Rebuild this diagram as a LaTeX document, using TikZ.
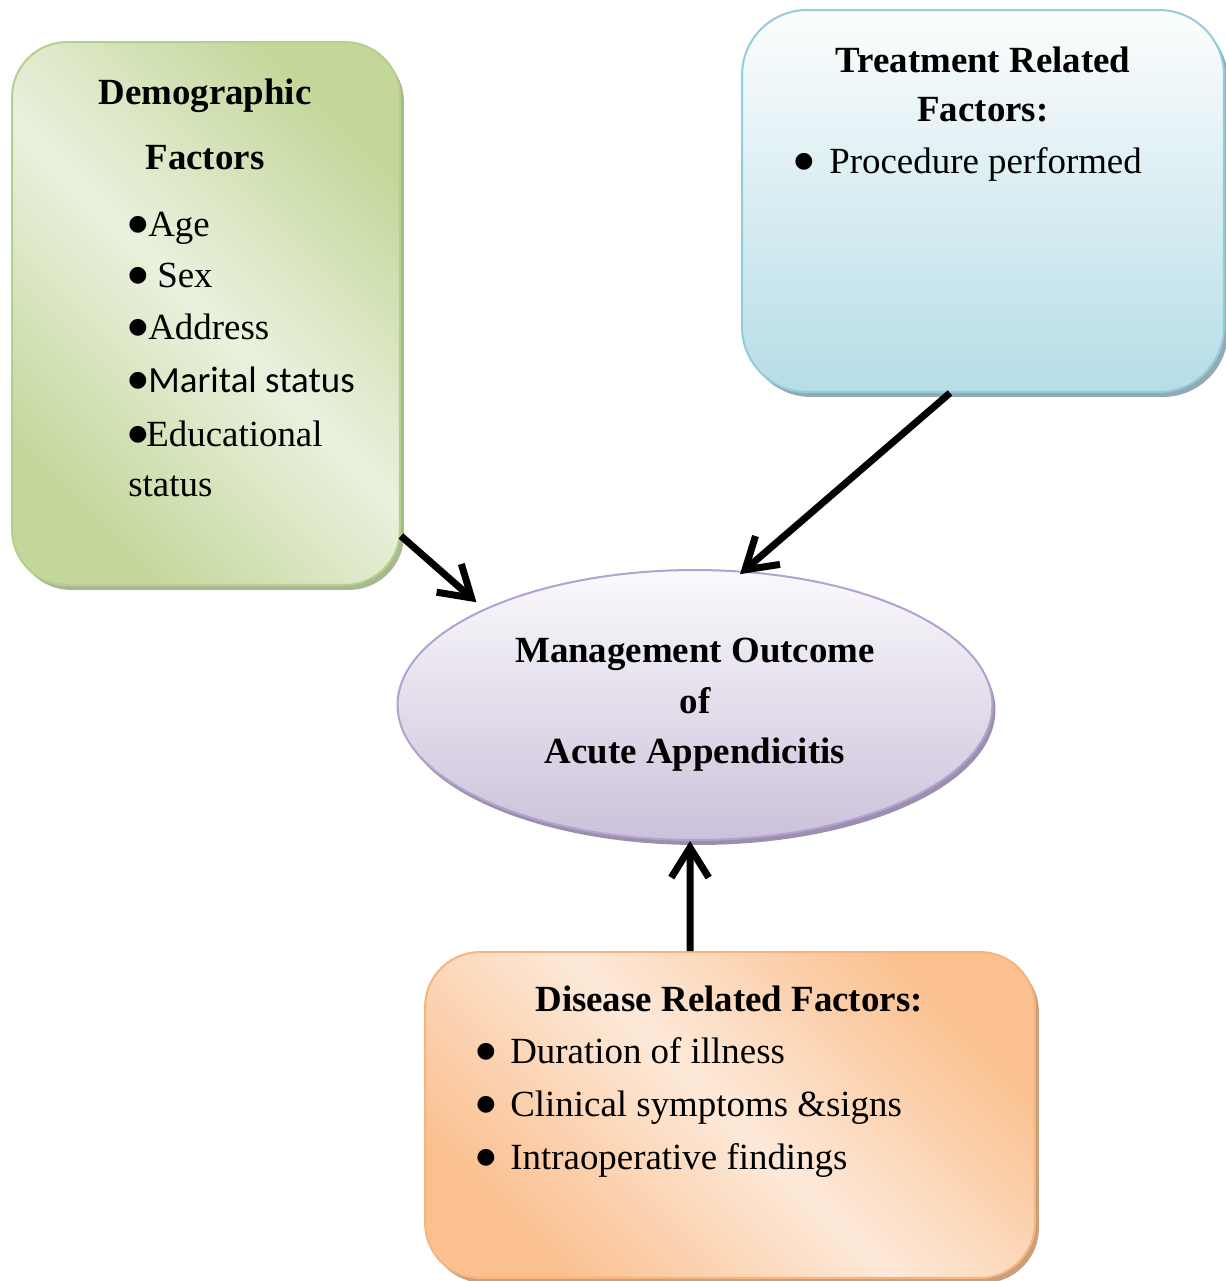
\documentclass[tikz,border=0pt]{standalone}
\usepackage{fontspec}
\setmainfont{Liberation Serif}
\newfontfamily\calibri{Carlito}
\newfontfamily\dejavu{DejaVu Sans}
\usetikzlibrary{shapes.geometric,shadows,arrows.meta}
\newcommand\bodyfont{\fontsize{21}{25}\selectfont}
\newcommand\bul{\raisebox{3pt}{\fontsize{12.5}{12}\selectfont\dejavu ●}}
\definecolor{greenedge}{HTML}{B5CF8C}
\definecolor{greenlight}{HTML}{EAF1DE}
\definecolor{greendark}{HTML}{C3D79B}
\definecolor{greenshade}{HTML}{A8B892}
\definecolor{blueedge}{HTML}{93CDDC}
\definecolor{bluelight}{HTML}{FCFDFD}
\definecolor{bluedark}{HTML}{B6DDE7}
\definecolor{blueshade}{HTML}{92AAB3}
\definecolor{violetedge}{HTML}{B2A2D0}
\definecolor{violetlight}{HTML}{FAF9FC}
\definecolor{violetdark}{HTML}{CCC1DA}
\definecolor{violetshade}{HTML}{9C8FAE}
\definecolor{orangeedge}{HTML}{F9B47C}
\definecolor{orangelight}{HTML}{FDE9D9}
\definecolor{orangedark}{HTML}{FAC08F}
\definecolor{orangeshade}{HTML}{C9A07C}
\begin{document}
\begin{tikzpicture}[x=0.02cm, y=-0.02cm,
  box/.style = {draw, line width=0.04cm, rounded corners=1.1cm},
  demobox/.style = {box, draw=greenedge, top color=greendark, bottom color=greendark, middle color=greenlight, shading angle=-45,
    drop shadow={shadow xshift=0.08cm, shadow yshift=-0.1cm, fill=greenshade, opacity=1}},
  treatbox/.style = {box, rounded corners=1.3cm, draw=blueedge, top color=bluelight, bottom color=bluedark,
    drop shadow={shadow xshift=0.08cm, shadow yshift=-0.1cm, fill=blueshade, opacity=1}},
  outcomebox/.style = {ellipse, draw=violetedge, line width=0.04cm, top color=violetlight, bottom color=violetdark,
    drop shadow={shadow xshift=0.06cm, shadow yshift=-0.1cm, fill=violetshade, opacity=1}},
  diseasebox/.style = {box, draw=orangeedge, top color=orangedark, bottom color=orangedark, middle color=orangelight, shading angle=-45,
    drop shadow={shadow xshift=0.08cm, shadow yshift=-0.1cm, fill=orangeshade, opacity=1}},
  ttl/.style = {inner sep=0pt, anchor=base, font=\bodyfont\bfseries},
  txt/.style = {inner sep=0pt, anchor=base west, font=\bodyfont},
  arr/.style = {line width=0.14cm, -{Straight Barb[length=0.6cm,width=0.75cm]}}]
\useasboundingbox (0,0) rectangle (1226,1281);

\node[demobox, minimum width=7.76cm, minimum height=10.86cm] (demo) at (206,313.5) {};
\node[treatbox, minimum width=9.64cm, minimum height=7.64cm] (treat) at (983,201) {};
\node[outcomebox, minimum width=11.9cm, minimum height=5.4cm] (outcome) at (695,705) {};
\node[diseasebox, minimum width=12.2cm, minimum height=6.52cm] (disease) at (730,1115) {};

\node[ttl] (demo1) at (205,104) {Demographic};
\node[ttl] (demo2) at (205,169) {Factors};
\node[txt] (age) at (128,236) {\makebox[0.4cm][l]{\bul}Age};
\node[txt] (sex) at (128,287) {\makebox[0.58cm][l]{\bul}Sex};
\node[txt] (address) at (128,339) {\makebox[0.4cm][l]{\bul}Address};
\node[txt] (marital) at (128,392) {\makebox[0.4cm][l]{\bul}{\calibri Marital status}};
\node[txt] (educ) at (128,446) {\makebox[0.36cm][l]{\bul}Educational};
\node[txt] (educ2) at (128,496) {status};

\node[ttl] (treat1) at (983,72) {Treatment Related};
\node[ttl] (treat2) at (983,121) {Factors:};
\node[txt] (proc) at (794,173) {\makebox[0.7cm][l]{\bul}Procedure performed};

\node[ttl] (out1) at (695,662) {Management Outcome};
\node[ttl] (out2) at (695,713) {of};
\node[ttl] (out3) at (695,763) {Acute Appendicitis};

\node[ttl] (dis1) at (729,1011) {Disease Related Factors:};
\node[txt] (dur) at (476,1063) {\makebox[0.68cm][l]{\bul}Duration of illness};
\node[txt] (clin) at (476,1116) {\makebox[0.68cm][l]{\bul}Clinical symptoms \&signs};
\node[txt] (intra) at (476,1169) {\makebox[0.68cm][l]{\bul}Intraoperative findings};

\draw[arr, shorten >=0.2cm] ([yshift=1cm]demo.south east) -- (outcome.north west);
\draw[arr, shorten >=-0.1cm] ([xshift=-0.66cm]treat.south) -- (outcome.70);
\draw[arr] ([xshift=-0.8cm]disease.north) -- ([xshift=-0.1cm]outcome.south);

\end{tikzpicture}
\end{document}
